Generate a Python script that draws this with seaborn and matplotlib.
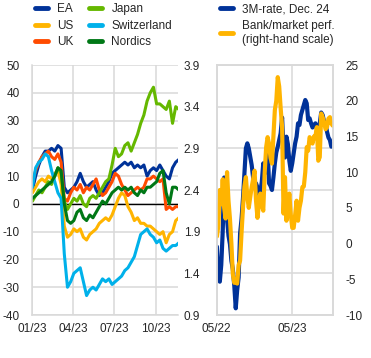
import numpy as np
import pandas as pd
import matplotlib
matplotlib.use('Agg')
import matplotlib.pyplot as plt
import matplotlib.dates as mdates
import seaborn as sns

# ---- left panel: bank equity prices, % change since start of 2023 (weekly) ----
left_start = '2023-01-02'
ea = [5, 10, 14, 17, 19, 19, 20, 19, 21, 20, 6, 4, 5, 6, 8, 11, 8, 6, 7, 8,
      5, 3, 4, 6, 8, 11, 12, 13, 14, 15, 14, 15, 13, 14, 13, 14, 10, 12, 13, 12,
      14, 12, 10, 9, 13, 15, 16]
us = [4, 6, 8, 9, 8, 10, 9, 11, 12, 7, -8, -12, -11, -9, -10, -9, -12, -13, -11, -10,
      -9, -7, -6, -5, -6, -4, -1, 2, 4, 3, -1, -3, -6, -5, -7, -7, -8, -8, -9, -10,
      -11, -10, -14, -11, -10, -6, -5]
uk = [8, 12, 15, 17, 18, 19, 17, 16, 18, 15, 2, 1, 4, 6, 5, 7, 4, 6, 5, 7,
      9, 5, 3, 4, 6, 8, 11, 10, 7, 5, 3, 4, 5, 6, 5, 6, 9, 9, 10, 9,
      8, 9, -2, -1, -2, -1, -1]
japan = [1, 3, 5, 4, 6, 8, 7, 10, 13, 11, 1, -2, 0, 2, 1, 3, 0, -1, 2, 3,
         2, 4, 6, 8, 9, 14, 20, 17, 18, 21, 22, 19, 22, 25, 29, 32, 37, 40, 42, 36,
         36, 35, 34, 37, 29, 35, 34]
switzerland = [6, 13, 15, 16, 18, 17, 12, 8, 4, 2, -18, -30, -28, -25, -24, -23, -28, -33, -31, -30,
               -31, -29, -27, -28, -27, -29, -28, -27, -26, -24, -23, -21, -19, -15, -11, -10, -9, -11, -12, -14,
               -13, -16, -17, -16, -15, -15, -14]
nordics = [2, 3, 4, 5, 6, 7, 8, 10, 13, 12, 0, -6, -7, -6, -3, -2, -5, -6, -4, -5,
           -3, -1, 1, 0, 2, 4, 5, 6, 5, 6, 5, 6, 4, 3, 5, 4, 6, 6, 7, 8,
           11, 12, 4, 0, 6, 6, 5]
left_names = ['EA', 'US', 'UK', 'Japan', 'Switzerland', 'Nordics']
left_colors = ['#003299', '#FFB400', '#FF4B00', '#65B800', '#00B1EA', '#007816']

# ---- right panel: 3M rate (Dec. 24 contract) and bank/market performance (weekly) ----
right_start = '2022-05-02'
rate_3m = [1.72, 1.35, 1.30, 1.5, 1.9, 2.55, 2.3, 2.05, 1.85, 1.75,
           1.55, 1.45, 1.25, 0.98, 1.2, 1.35, 1.88, 2.05, 2.3, 2.6,
           2.9, 2.96, 2.9, 2.8, 2.7, 2.55, 2.45, 2.48, 2.43, 2.35,
           2.38, 2.5, 2.72, 2.6, 2.75, 2.88, 2.48, 2.45, 2.4, 2.55,
           2.72, 2.85, 2.92, 3.0, 3.08, 3.27, 2.88, 2.79, 3.04, 2.95,
           2.75, 2.63, 2.72, 2.84, 2.96, 3.04, 3.2, 3.18, 3.3, 3.36,
           3.42, 3.48, 3.44, 3.24, 3.26, 3.2, 3.15, 3.18, 3.2, 3.14,
           3.12, 3.2, 3.33, 3.3, 3.22, 3.2, 3.1, 3.03, 3.0, 2.92, 2.95]
bank_perf = [1.0, 2.5, 7.5, 5.5, 9.0, 5.0, 3.5, 10.0, 6.0, 3.5,
             0.0, -4.3, -5.5, -5.0, -5.6, -3.0, -2.4, 1.5, 5.0, 8.0,
             9.3, 6.5, 5.0, 6.5, 7.9, 9.0, 10.2, 6.0, 3.6, 5.5,
             7.0, 5.5, 4.6, 10.0, 13.5, 14.9, 14.0, 12.0, 11.2, 15.0,
             18.7, 20.0, 23.3, 22.0, 19.0, 16.3, 4.2, 9.3, 3.2, 5.0,
             7.0, 4.0, 2.2, 2.2, 4.0, 6.0, 3.2, 5.0, 6.0, 7.9,
             8.0, 10.0, 13.5, 13.0, 14.9, 14.5, 14.0, 15.0, 15.0, 16.3,
             11.6, 12.1, 18.2, 17.7, 17.0, 16.0, 16.3, 17.5, 17.7, 16.8, 16.5]

sns.set_style('white')
plt.rcParams['font.family'] = ['Liberation Sans', 'DejaVu Sans']
plt.rcParams['font.size'] = 8.5
plt.rcParams['axes.unicode_minus'] = False

GRID = '#D9D9D9'

# long-form table for the left panel
left_dates = pd.date_range(left_start, periods=len(ea), freq='7D')
left_df = pd.DataFrame({'date': left_dates, 'EA': ea, 'US': us, 'UK': uk,
                        'Japan': japan, 'Switzerland': switzerland, 'Nordics': nordics})
left_long = left_df.melt(id_vars='date', var_name='country', value_name='change')

right_dates = pd.date_range(right_start, periods=len(rate_3m), freq='7D')
right_df = pd.DataFrame({'date': right_dates, 'rate': rate_3m, 'perf': bank_perf})

fig = plt.figure(figsize=(3.71, 3.58), dpi=100)
ax = fig.add_axes([32 / 371, 43 / 358, 146 / 371, 250 / 358])
axr = fig.add_axes([216.7 / 371, 43 / 358, 116.3 / 371, 250 / 358])

# left panel
sns.lineplot(data=left_long, x='date', y='change', hue='country', hue_order=left_names,
             palette=dict(zip(left_names, left_colors)), linewidth=2.2, ax=ax)
ax.axhline(0, color='black', linewidth=1.0, zorder=1.5)
ax.set_ylim(-40, 50)
ax.set_yticks(np.arange(-40, 51, 10))
ax.set_xlim(pd.Timestamp('2023-01-01'), pd.Timestamp('2023-11-18'))
ax.xaxis.set_major_locator(mdates.MonthLocator(bymonth=[1, 4, 7, 10]))
ax.xaxis.set_major_formatter(mdates.DateFormatter('%m/%y'))
ax.grid(True, color=GRID, linewidth=1.1)
ax.set_axisbelow(True)
ax.set_xlabel('')
ax.set_ylabel('')
ax.tick_params(axis='y', length=0, pad=9)
ax.tick_params(axis='x', length=0, pad=6)
for side in ['top', 'right']:
    ax.spines[side].set_visible(False)
for side in ['left', 'bottom']:
    ax.spines[side].set_color(GRID)
    ax.spines[side].set_linewidth(1.1)

handles, labels = ax.get_legend_handles_labels()
ax.get_legend().remove()
leg = fig.legend(handles, labels, loc='upper left', bbox_to_anchor=(29 / 371, 1.008),
                 ncol=2, frameon=False, borderpad=0, handlelength=1.1,
                 handletextpad=0.8, columnspacing=1.3, labelspacing=0.4)
for h in leg.legend_handles:
    h.set_linewidth(3.5)

# right panel
sns.lineplot(data=right_df, x='date', y='rate', color='#003299', linewidth=3,
             ax=axr, label='3M-rate, Dec. 24', legend=False)
axr2 = axr.twinx()
sns.lineplot(data=right_df, x='date', y='perf', color='#FFB400', linewidth=3,
             ax=axr2, label='Bank/market perf.\n(right-hand scale)', legend=False)
axr.set_ylim(0.9, 3.9)
axr.set_yticks(np.arange(0.9, 3.91, 0.5))
axr.yaxis.set_major_formatter(matplotlib.ticker.FormatStrFormatter('%.1f'))
axr2.set_ylim(-10, 25)
axr2.set_yticks(np.arange(-10, 26, 5))
axr.set_xlim(pd.Timestamp('2022-05-01'), pd.Timestamp('2023-11-14'))
axr.xaxis.set_major_locator(mdates.MonthLocator(bymonth=[5]))
axr.xaxis.set_major_formatter(mdates.DateFormatter('%m/%y'))
axr.grid(True, color=GRID, linewidth=1.1)
axr.set_axisbelow(True)
for a in (axr, axr2):
    a.set_xlabel('')
    a.set_ylabel('')
    for side in a.spines:
        a.spines[side].set_color(GRID)
        a.spines[side].set_linewidth(1.1)
axr.tick_params(axis='y', length=0, pad=12)
axr.tick_params(axis='x', length=0, pad=6)
axr2.tick_params(axis='y', length=0, pad=9)

h1, l1 = axr.get_legend_handles_labels()
h2, l2 = axr2.get_legend_handles_labels()
leg2 = fig.legend(h1 + h2, l1 + l2, loc='upper left', bbox_to_anchor=(214 / 371, 1.008),
                  frameon=False, borderpad=0, handlelength=1.1,
                  handletextpad=0.8, labelspacing=0.4)
for h in leg2.legend_handles:
    h.set_linewidth(3.5)

fig.savefig('out.png', dpi=100)
